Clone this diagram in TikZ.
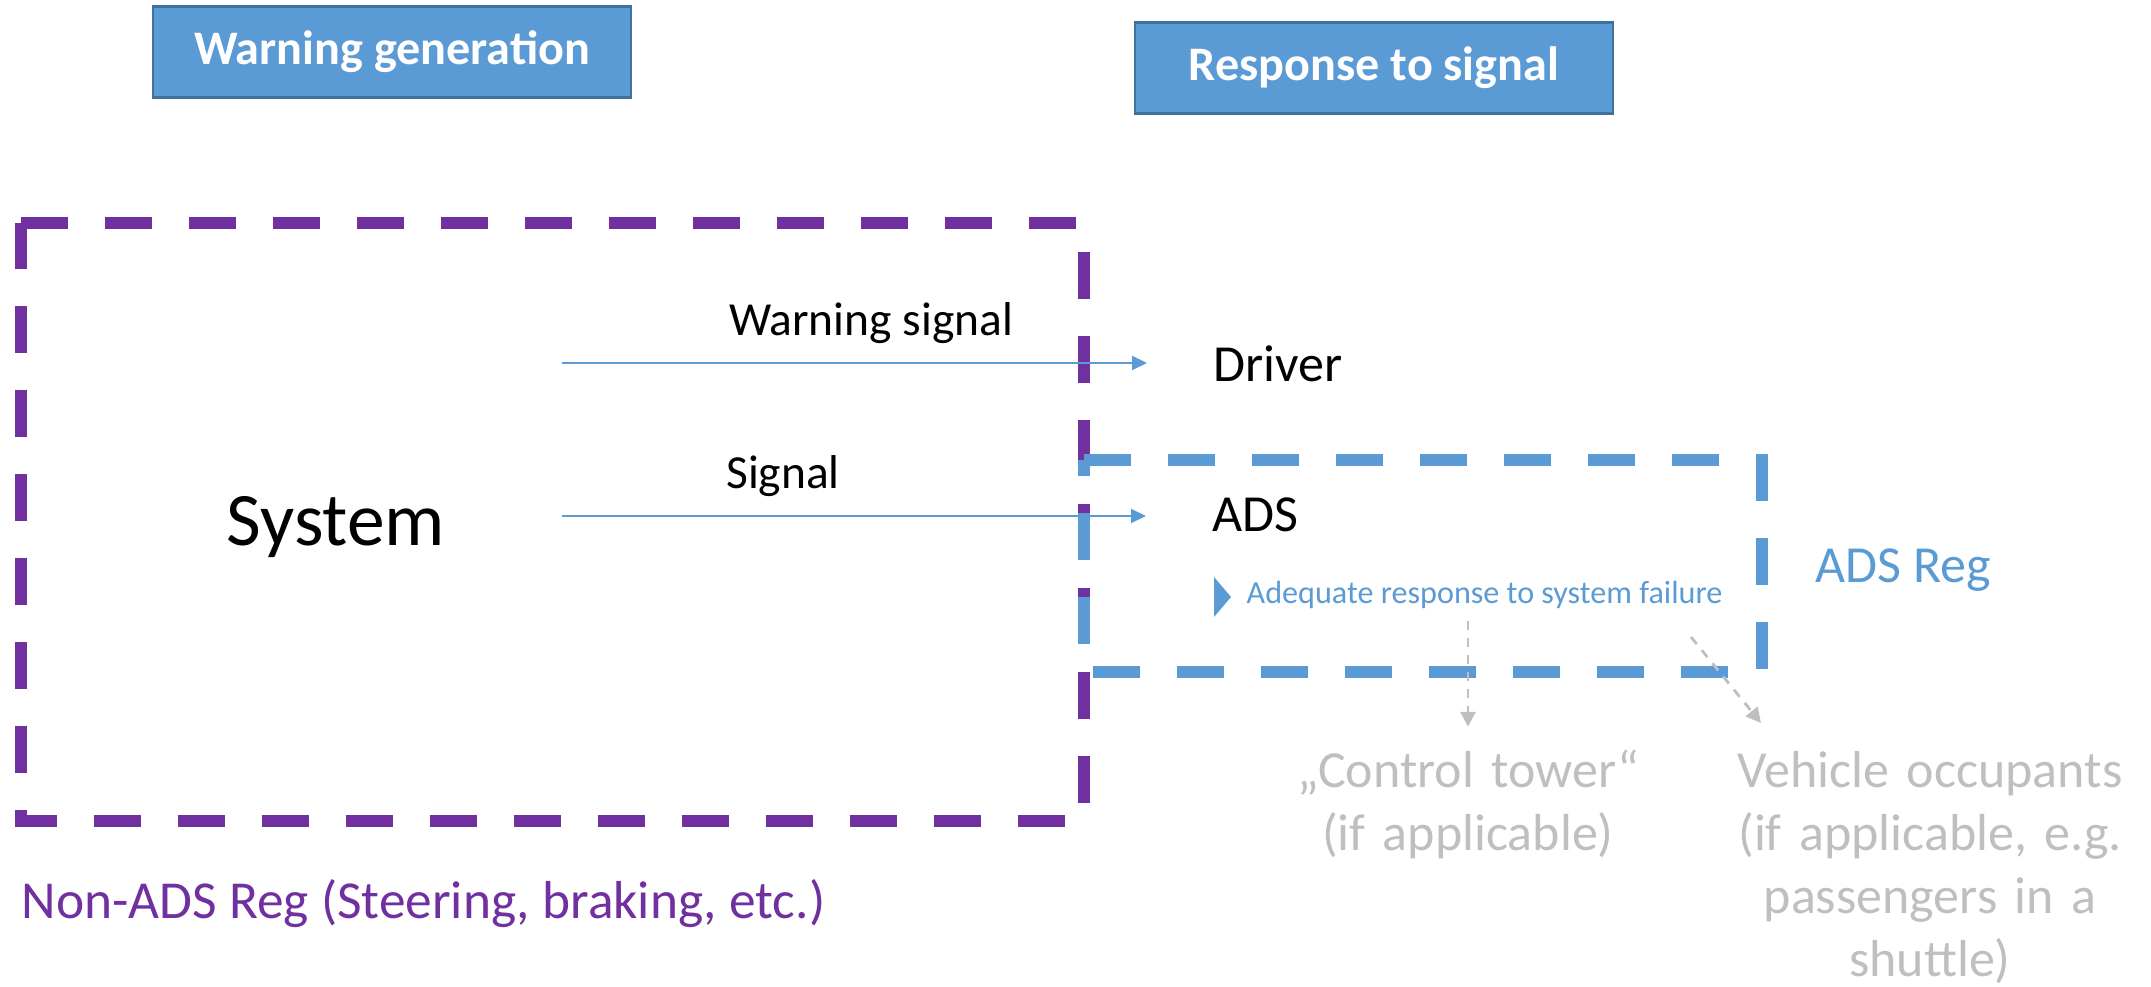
\documentclass[tikz,border=0pt]{standalone}
\usepackage{fontspec}
\setmainfont{Carlito}
\usetikzlibrary{arrows.meta}
\definecolor{regpurple}{HTML}{7030A0}
\definecolor{adsblue}{HTML}{5B9BD5}
\definecolor{hdrline}{HTML}{41719C}
\definecolor{fbgray}{HTML}{BFBFBF}

\begin{document}
\begin{tikzpicture}[x=0.1mm, y=-0.1mm,
    hdr/.style={draw=hdrline, line width=.25mm, fill=adsblue, text=white, inner sep=0,
        minimum width=47.8mm, minimum height=9.1mm, font=\fontsize{13.7}{16}\selectfont\bfseries},
    lbl/.style={inner sep=0, font=\fontsize{14.8}{17.9}\selectfont},
    siglbl/.style={inner sep=0, font=\fontsize{13.5}{16}\selectfont},
    regline/.style={line width=1.15mm, dash pattern=on 4.7mm off 3.7mm},
    sig/.style={draw=adsblue, line width=.2mm, shorten >=6.6mm, -{Triangle[length=1.5mm, width=1.4mm]}},
    fb/.style={draw=fbgray, line width=.28mm, dash pattern=on .9mm off .8mm, -{Triangle[length=1.5mm, width=1.5mm]}}]
        \useasboundingbox (0,0) rectangle (2151,987);
        % headers
        \node[hdr] (hgen) at (392,52) {Warning generation};
        \node[hdr] (hresp) at (1374,68) {Response to signal};
        % regulation frames
        \draw[regline, regpurple] (21,223) -- (1084,223) -- (1084,821) -- (21,821) -- cycle;
        \draw[regline, adsblue] (1084,460) -- (1762,460) -- (1762,672) -- (1084,672) -- cycle;
        \node[lbl, font=\fontsize{15.2}{18}\selectfont, text=regpurple, anchor=base west] (nonads) at (21,918) {Non-ADS Reg (Steering, braking, etc.)};
        \node[lbl, text=adsblue, anchor=base west] (adsreg) at (1815,583) {ADS Reg};
        % system and receivers
        \node[inner sep=0, font=\fontsize{21.5}{25}\selectfont, anchor=base] (sys) at (336,546) {System};
        \node[lbl, anchor=base west] (driver) at (1213,382) {Driver};
        \node[lbl, anchor=base west] (ads) at (1212,532) {ADS};
        \coordinate (wsrc) at (562,363);
        \coordinate (ssrc) at (562,516);
        \draw[sig] (wsrc) -- (wsrc -| driver.west);
        \draw[sig] (ssrc) -- (ssrc -| ads.west);
        \node[siglbl, anchor=base] (wlbl) at (871,336) {Warning signal};
        \node[siglbl, anchor=base] (slbl) at (783,489) {Signal};
        % ADS response
        \fill[adsblue] (1214,577) -- (1231,597) -- (1214,617) -- cycle;
        \node[inner sep=0, text=adsblue, font=\fontsize{9.15}{11}\selectfont, anchor=base west] (adeq) at (1246,604) {Adequate response to system failure};
        \node[lbl, text=fbgray, text width=36mm, align=center, anchor=base] (ctower) at (1468,788) {„Control tower“\\(if applicable)};
        \node[lbl, text=fbgray, text width=40mm, align=center, anchor=base] (occ) at (1930,788) {Vehicle occupants\\(if applicable, e.g.\\passengers in a\\shuttle)};
        \coordinate (occfrom) at (1691,637);
        \coordinate (occto) at (1761,723);
        \draw[fb, shorten <=1.1mm, shorten >=2.3mm] (ctower.north |- adeq.south) -- (ctower.north);
        \draw[fb] (occfrom) -- (occto);
\end{tikzpicture}
\end{document}
